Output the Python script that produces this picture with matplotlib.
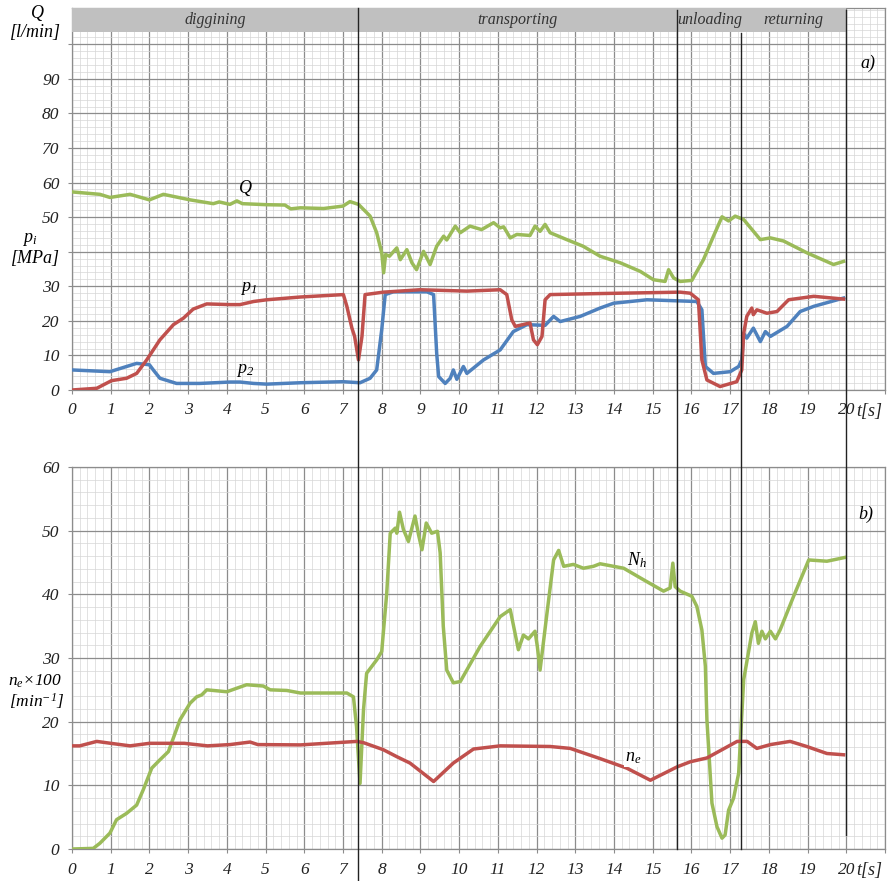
import matplotlib
matplotlib.use("Agg")
import matplotlib.pyplot as plt
from matplotlib.patches import Rectangle
from matplotlib.lines import Line2D
from matplotlib.ticker import MultipleLocator
from matplotlib.transforms import blended_transform_factory

plt.rcParams["font.family"] = ["Liberation Serif", "DejaVu Serif"]
plt.rcParams["font.style"] = "italic"
plt.rcParams["mathtext.fontset"] = "custom"
plt.rcParams["mathtext.it"] = "Liberation Serif:italic"
plt.rcParams["mathtext.rm"] = "Liberation Serif:italic"

GREEN = "#9BBB59"
RED = "#C0504D"
BLUE = "#4F81BD"

# ---- (a) flow Q [l/min] and pressures p1, p2 [MPa] ----
t_Q = [0, 0.72, 0.98, 1.5, 2.0, 2.36, 3.05, 3.65, 3.8, 4.08, 4.26, 4.4, 5.03, 5.5, 5.65,
       5.9, 6.5, 7.0, 7.18, 7.4, 7.7, 7.87, 8.0, 8.05, 8.1, 8.2, 8.39, 8.48, 8.65, 8.78,
       8.9, 9.08, 9.25, 9.42, 9.6, 9.68, 9.9, 10.03, 10.28, 10.58, 10.89, 11.06, 11.15,
       11.32, 11.49, 11.83, 11.96, 12.09, 12.22, 12.35, 12.78, 13.2, 13.64, 14.16, 14.68,
       15.02, 15.32, 15.41, 15.54, 15.71, 16.01, 16.31, 16.57, 16.79, 16.96, 17.13, 17.35,
       17.78, 18.04, 18.38, 18.98, 19.67, 19.93]
Q = [57.3, 56.6, 55.7, 56.6, 55.0, 56.6, 55.0, 53.9, 54.4, 53.7, 54.7, 53.9, 53.6, 53.5, 52.4,
     52.7, 52.5, 53.2, 54.5, 53.7, 50.3, 45.5, 39.7, 33.9, 39.2, 38.7, 41.1, 37.7, 40.6, 36.8,
     34.8, 40.1, 36.3, 41.6, 44.5, 43.4, 47.4, 45.5, 47.4, 46.4, 48.4, 46.9, 47.2,
     44.0, 45.0, 44.7, 47.4, 45.9, 47.9, 45.5, 43.5, 41.6, 38.7, 36.8, 34.3,
     31.9, 31.4, 34.8, 32.4, 31.4, 31.7, 37.7, 44.5, 50.1, 48.9, 50.3, 49.3,
     43.5, 44.0, 43.1, 39.7, 36.3, 37.2]

t_p1 = [0, 0.64, 1.02, 1.41, 1.67, 1.93, 2.27, 2.62, 2.88, 3.13, 3.48, 4.08, 4.34, 4.69, 5.03,
        5.9, 7.01, 7.1, 7.23, 7.3, 7.4, 7.49, 7.57, 8.04, 8.99, 10.2, 11.06, 11.23, 11.36,
        11.45, 11.83, 11.92, 12.02, 12.14, 12.22, 12.35, 13.64, 15.71, 15.97, 16.18, 16.27,
        16.4, 16.74, 17.17, 17.3, 17.35, 17.43, 17.56, 17.6, 17.69, 17.95, 18.21, 18.51,
        19.16, 19.93]
p1 = [0, 0.5, 2.7, 3.4, 4.8, 8.7, 14.5, 18.9, 20.8, 23.4, 24.9, 24.7, 24.7, 25.6, 26.1,
      26.9, 27.6, 24.2, 17.9, 15.5, 8.7, 15.5, 27.6, 28.3, 29.0, 28.6, 29.0, 27.6, 20.3,
      18.4, 19.4, 14.5, 13.1, 15.5, 26.1, 27.6, 27.9, 28.3, 28.0, 26.1, 8.7,
      2.9, 1.0, 2.4, 5.8, 16.4, 21.3, 23.7, 21.8, 23.2, 22.2, 22.7, 26.1,
      27.1, 26.3]

t_p2 = [0, 0.98, 1.41, 1.67, 2.0, 2.1, 2.27, 2.7, 3.3, 4.08, 4.34, 4.69, 5.03, 5.9, 7.0,
        7.44, 7.7, 7.87, 8.0, 8.09, 8.3, 9.17, 9.34, 9.42, 9.47, 9.64, 9.77, 9.85, 9.94,
        10.11, 10.2, 10.63, 11.06, 11.4, 11.75, 12.22, 12.44, 12.61, 13.13, 13.64, 13.99,
        14.85, 16.14, 16.27, 16.36, 16.57, 17.0, 17.22, 17.3, 17.35, 17.43, 17.6, 17.78,
        17.91, 18.04, 18.47, 18.81, 19.16, 19.93]
p2 = [5.8, 5.3, 6.8, 7.7, 7.3, 5.8, 3.4, 1.9, 1.9, 2.3, 2.3, 1.9, 1.7, 2.1, 2.4,
      2.1, 3.4, 5.8, 17.4, 27.6, 28.4, 28.4, 27.6, 10.6, 3.9, 1.9, 3.4, 5.8, 3.1,
      6.8, 4.8, 8.7, 11.6, 16.9, 18.9, 18.7, 21.3, 19.8, 21.3, 23.7, 25.1,
      26.1, 25.6, 23.2, 6.8, 4.8, 5.3, 6.8, 8.7, 16.4, 15.0, 17.9, 14.0,
      16.9, 15.5, 18.4, 22.7, 24.2, 26.6]

# ---- (b) hydraulic power N_h and engine speed n_e x100 ----
t_Nh = [0, 0.55, 0.72, 0.98, 1.15, 1.41, 1.67, 1.84, 2.06, 2.27, 2.49, 2.79, 3.05, 3.22, 3.35,
        3.48, 4.0, 4.51, 4.94, 5.12, 5.55, 5.9, 7.1, 7.27, 7.35, 7.44, 7.53, 7.61, 7.87,
        8.0, 8.13, 8.22, 8.35, 8.39, 8.46, 8.56, 8.69, 8.86, 8.95, 9.04, 9.15, 9.29, 9.44,
        9.51, 9.59, 9.68, 9.85, 10.03, 10.54, 11.06, 11.32, 11.53, 11.66, 11.79, 11.96,
        12.02, 12.09, 12.27, 12.44, 12.57, 12.7, 12.95, 13.21, 13.47, 13.64, 14.25, 14.76,
        15.28, 15.45, 15.52, 15.58, 15.71, 16.01, 16.14, 16.27, 16.36, 16.4, 16.53, 16.66,
        16.79, 16.87, 16.96, 17.09, 17.22, 17.35, 17.56, 17.65, 17.73, 17.82, 17.91, 18.04,
        18.17, 18.29, 18.64, 19.03, 19.5, 19.97]
Nh = [0, 0.1, 0.9, 2.5, 4.6, 5.6, 6.9, 9.3, 12.7, 14.0, 15.3, 20.3, 22.9, 23.9, 24.2,
      25.0, 24.7, 25.8, 25.6, 25.0, 24.9, 24.5, 24.5, 23.9, 19.2, 10.3, 21.9, 27.6, 29.7,
      31.0, 40.2, 49.6, 50.4, 49.6, 52.9, 50.2, 48.3, 52.3, 49.4, 47.0, 51.2, 49.6, 49.9,
      46.5, 35.0, 28.1, 26.1, 26.3, 31.8, 36.5, 37.6, 31.3, 33.6, 33.0, 34.2,
      31.8, 28.1, 37.1, 45.4, 46.9, 44.4, 44.7, 44.1, 44.4, 44.8, 44.1, 42.3,
      40.5, 41.0, 44.9, 41.2, 40.5, 39.7, 38.1, 34.4, 28.7, 20.3, 7.2, 3.5,
      1.7, 2.2, 6.1, 8.0, 11.9, 26.6, 33.9, 35.7, 32.3, 34.2, 33.0, 34.2,
      33.0, 34.4, 39.7, 45.4, 45.2, 45.8]

t_ne = [0, 0.2, 0.64, 1.0, 1.5, 2.0, 2.9, 3.5, 4.08, 4.6, 4.8, 5.9, 7.36, 7.53, 8.04, 8.39,
        8.73, 9.34, 9.85, 10.37, 11.06, 12.35, 12.87, 13.64, 14.33, 14.94, 15.63, 15.97,
        16.4, 17.18, 17.44, 17.69, 18.04, 18.55, 18.98, 19.5, 19.93]
ne = [16.2, 16.2, 16.9, 16.6, 16.2, 16.6, 16.6, 16.2, 16.4, 16.8, 16.4, 16.35, 16.9, 16.7, 15.6, 14.5,
      13.5, 10.6, 13.5, 15.7, 16.2, 16.1, 15.8, 14.2, 12.7, 10.8, 12.9, 13.7,
      14.3, 16.9, 16.9, 15.8, 16.4, 16.9, 16.1, 15.0, 14.8]

phase_names = ["diggining", "transporting", "unloading", "returning"]
phase_edges = [0, 7.39, 15.63, 17.29, 20.0]

fig = plt.figure(figsize=(8.91, 8.81), dpi=100)
W, H = 891.0, 881.0
axL, axR = 72 / W, (885 - 72) / W
ax1 = fig.add_axes([axL, 1 - 390 / H, axR, (390 - 8) / H])
ax2 = fig.add_axes([axL, 1 - 849 / H, axR, (849 - 467) / H])


def style_axes(ax, ymax, ystep, yminor, ylabels):
    ax.set_xlim(0, 21)
    ax.set_ylim(0, ymax)
    ax.set_xticks(range(0, 22))
    ax.set_xticklabels([str(i) for i in range(21)] + [""])
    ax.xaxis.set_minor_locator(MultipleLocator(0.2))
    ax.yaxis.set_minor_locator(MultipleLocator(yminor))
    yt = list(range(0, len(ylabels) * ystep, ystep))
    ax.set_yticks(yt)
    ax.set_yticklabels(ylabels)
    ax.grid(which="major", color="#8c8c8c", lw=0.9)
    ax.grid(which="minor", color="#d6d6d6", lw=0.5)
    ax.set_axisbelow(True)
    ax.tick_params(which="major", length=3, color="#8c8c8c", labelsize=12.5, pad=6,
                   labelcolor="#222222")
    ax.tick_params(which="minor", length=0)
    for s in ax.spines.values():
        s.set_color("#8c8c8c")
        s.set_linewidth(0.9)
    ax.text(20.6, -0.055, "t[s]", transform=blended_transform_factory(ax.transData, ax.transAxes),
            ha="center", va="center", fontsize=13, color="#222222")


style_axes(ax1, 110.5, 10, 2, ["0", "10", "20", "30", "", "50", "60", "70", "80", "90", ""])
style_axes(ax2, 60, 10, 2, ["0", "10", "20", "30", "40", "50", "60"])

lw = 2.5
ax1.plot(t_Q, Q, color=GREEN, lw=lw, solid_joinstyle="round", zorder=3)
ax1.plot(t_p2, p2, color=BLUE, lw=lw, solid_joinstyle="round", zorder=3)
ax1.plot(t_p1, p1, color=RED, lw=lw, solid_joinstyle="round", zorder=4)
ax2.plot(t_Nh, Nh, color=GREEN, lw=lw, solid_joinstyle="round", zorder=3)
ax2.plot(t_ne, ne, color=RED, lw=lw, solid_joinstyle="round", zorder=3)

# phase header
ax1.add_patch(Rectangle((phase_edges[0], 103.5), phase_edges[-1] - phase_edges[0], 7.0,
                        facecolor="#c0c0c0", edgecolor="none", zorder=5))
for i, name in enumerate(phase_names):
    xc = (phase_edges[i] + phase_edges[i + 1]) / 2
    ax1.text(xc, 107.0, name, ha="center", va="center", fontsize=11.5, color="#333333", zorder=6)

# phase boundary lines across both panels
bt = blended_transform_factory(ax1.transData, fig.transFigure)
line_spans = [(7.39, 8, 880), (15.63, 10, 849), (17.29, 33, 849), (20.0, 10, 835)]
for x, ytop, ybot in line_spans:
    fig.add_artist(Line2D([x, x], [1 - ytop / H, 1 - ybot / H], transform=bt,
                          color="#222222", lw=1.0, zorder=10))

# curve labels
ax1.text(4.47, 58.5, "$Q$", fontsize=13, ha="center", va="center")
ax1.text(4.55, 29.5, "$p_1$", fontsize=13, ha="center", va="center")
ax1.text(4.47, 5.5, "$p_2$", fontsize=13, ha="center", va="center")
ax2.text(14.6, 45.3, "$N_h$", fontsize=13, ha="center", va="center")
ax2.text(14.5, 14.3, "$n_e$", fontsize=13, ha="center", va="center",
         bbox=dict(boxstyle="square,pad=0.05", fc="white", ec="none"), zorder=4)
ax1.text(20.55, 94.6, "a)", fontsize=13, ha="center", va="center")
ax2.text(20.5, 52.5, "b)", fontsize=13, ha="center", va="center")

# axis titles
fig.text(37 / W, 1 - 13 / H, "$Q$", fontsize=13, ha="center", va="center")
fig.text(35 / W, 1 - 33 / H, "[l/min]", fontsize=13, ha="center", va="center")
fig.text(30 / W, 1 - 240 / H, "$p_i$", fontsize=13, ha="center", va="center")
fig.text(35 / W, 1 - 258 / H, "[MPa]", fontsize=13, ha="center", va="center")
fig.text(35 / W, 1 - 681 / H, "$n_e$×100", fontsize=12.5, ha="center", va="center")
fig.text(37 / W, 1 - 701 / H, "[min$^{-1}$]", fontsize=12.5, ha="center", va="center")

fig.savefig("out.png", dpi=100)
